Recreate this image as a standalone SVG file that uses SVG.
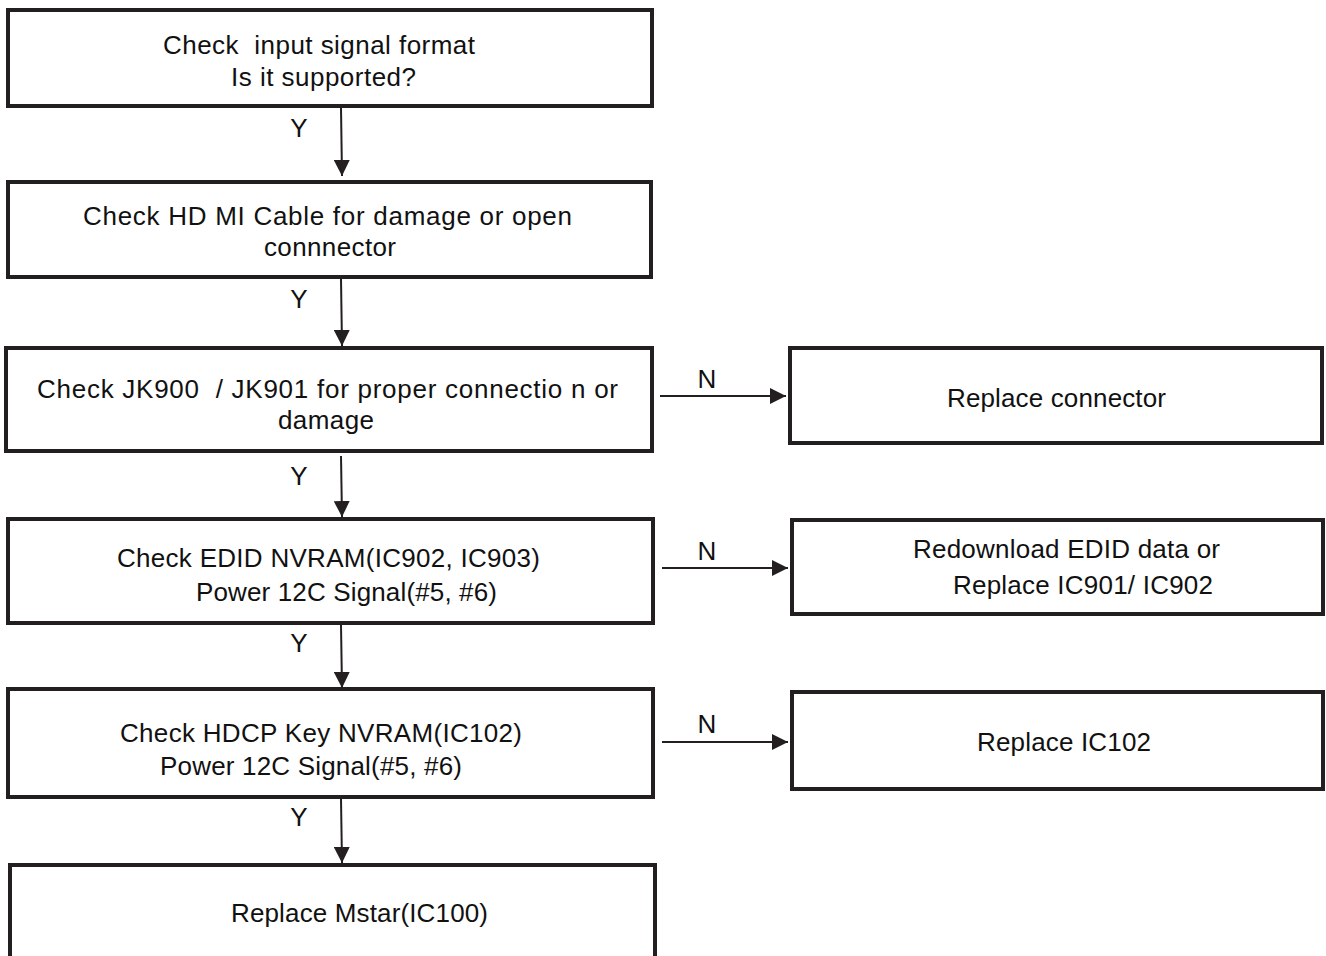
<svg xmlns="http://www.w3.org/2000/svg" width="1326" height="956" viewBox="0 0 1326 956">
<style>
.box{fill:#fff;stroke:#231f20;stroke-width:4}
.t{font-family:"Liberation Sans",Arial,Helvetica,sans-serif;font-size:26px;fill:#111;white-space:pre}
.lbl{font-family:"Liberation Sans",Arial,Helvetica,sans-serif;font-size:26px;fill:#111;text-anchor:middle}
.c{stroke:#231f20;stroke-width:2;fill:none;marker-end:url(#ah)}
</style>
<defs>
<marker id="ah" markerUnits="userSpaceOnUse" markerWidth="16" markerHeight="16" refX="16" refY="8" orient="auto">
<path d="M0,0 L16,8 L0,16 Z" fill="#231f20"/>
</marker>
</defs>
<rect width="1326" height="956" fill="#fff"/>
<g id="n1"><rect class="box" x="8" y="10" width="644" height="96"/>
<text class="t" x="163" y="54" textLength="312" lengthAdjust="spacing">Check  input signal format</text>
<text class="t" x="231" y="86" textLength="185" lengthAdjust="spacing">Is it supported?</text></g>
<g id="n2"><rect class="box" x="8" y="182" width="643" height="95"/>
<text class="t" x="83" y="225" textLength="489" lengthAdjust="spacing">Check HD MI Cable for damage or open</text>
<text class="t" x="264" y="256" textLength="132" lengthAdjust="spacing">connnector</text></g>
<g id="n3"><rect class="box" x="6" y="348" width="646" height="103"/>
<text class="t" x="37" y="398" textLength="581" lengthAdjust="spacing">Check JK900  / JK901 for proper connectio n or</text>
<text class="t" x="278" y="429" textLength="96" lengthAdjust="spacing">damage</text></g>
<g id="n4"><rect class="box" x="8" y="519" width="645" height="104"/>
<text class="t" x="117" y="567" textLength="423" lengthAdjust="spacing">Check EDID NVRAM(IC902, IC903)</text>
<text class="t" x="196" y="601" textLength="301" lengthAdjust="spacing">Power 12C Signal(#5, #6)</text></g>
<g id="n5"><rect class="box" x="8" y="689" width="645" height="108"/>
<text class="t" x="120" y="742" textLength="402" lengthAdjust="spacing">Check HDCP Key NVRAM(IC102)</text>
<text class="t" x="160" y="775" textLength="302" lengthAdjust="spacing">Power 12C Signal(#5, #6)</text></g>
<g id="n6"><rect class="box" x="10" y="865" width="645" height="110"/>
<text class="t" x="231" y="922" textLength="257" lengthAdjust="spacing">Replace Mstar(IC100)</text></g>
<g id="n7"><rect class="box" x="790" y="348" width="532" height="95"/>
<text class="t" x="947" y="407" textLength="219" lengthAdjust="spacing">Replace connector</text></g>
<g id="n8"><rect class="box" x="792" y="520" width="531" height="94"/>
<text class="t" x="913" y="558" textLength="307" lengthAdjust="spacing">Redownload EDID data or</text>
<text class="t" x="953" y="594" textLength="260" lengthAdjust="spacing">Replace IC901/ IC902</text></g>
<g id="n9"><rect class="box" x="792" y="692" width="531" height="97"/>
<text class="t" x="977" y="751" textLength="174" lengthAdjust="spacing">Replace IC102</text></g>
<g id="connectors">
<line class="c" x1="341" y1="108" x2="342" y2="176"/>
<line class="c" x1="341" y1="279" x2="342" y2="346"/>
<line class="c" x1="341" y1="456" x2="342" y2="517"/>
<line class="c" x1="341" y1="625" x2="342" y2="688"/>
<line class="c" x1="341" y1="799" x2="342" y2="863"/>
<line class="c" x1="660" y1="396" x2="786" y2="396"/>
<line class="c" x1="662" y1="568" x2="788" y2="568"/>
<line class="c" x1="662" y1="742" x2="788" y2="742"/>
<text class="lbl" x="299" y="137">Y</text>
<text class="lbl" x="299" y="308">Y</text>
<text class="lbl" x="299" y="485">Y</text>
<text class="lbl" x="299" y="652">Y</text>
<text class="lbl" x="299" y="826">Y</text>
<text class="lbl" x="707" y="388">N</text>
<text class="lbl" x="707" y="560">N</text>
<text class="lbl" x="707" y="733">N</text>
</g>
</svg>
